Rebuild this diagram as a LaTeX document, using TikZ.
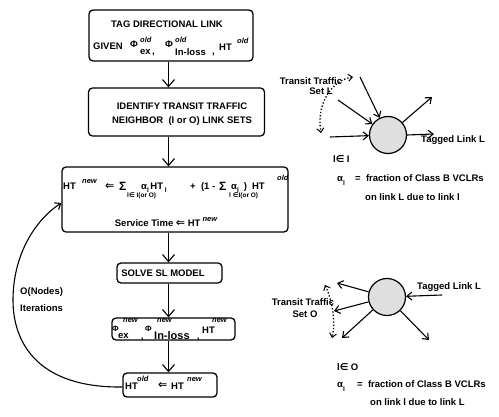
\documentclass[tikz,border=0pt]{standalone}
\usepackage{fontspec}
\setmainfont{Liberation Sans}
\newfontfamily\dej{DejaVu Sans}
\usetikzlibrary{arrows.meta}
\newcommand\supf{\fontsize{7.5}{8}\selectfont\itshape}
\newcommand\subf{\fontsize{6.5}{7}\selectfont}
\begin{document}
\begin{tikzpicture}[x=1pt,y=-1pt,
  every node/.style={font=\bfseries\fontsize{9.5}{10}\selectfont, inner sep=0pt},
  box/.style={draw, line width=1.3pt, rounded corners=4pt},
  arr/.style={-{Straight Barb[length=7pt,width=12pt,line width=1.1pt]}, line width=1.1pt},
  arrs/.style={-{Straight Barb[length=5pt,width=8pt,line width=1.1pt]}, line width=1.1pt},
  dotarc/.style={line width=1.3pt, dotted, {Straight Barb[length=4pt,width=7pt,line width=1pt]}-{Straight Barb[length=4pt,width=7pt,line width=1pt]}},
  ball/.style={circle, draw, line width=1.2pt, fill=gray!25, minimum size=37pt},
  bw/.style={anchor=base west},
  subtxt/.style={font=\bfseries\fontsize{6.5}{7}\selectfont}
]
\useasboundingbox (0,0) rectangle (499,417);
\coordinate (col) at (168.5,0);

% ---------- box 1
\node[box, minimum width=164pt, minimum height=51pt] (b1) at (171,35.5) {};
\node (b1a) at (167,24) {TAG DIRECTIONAL LINK};
\node[bw] (b1b) at (93,50) {GIVEN};
\node[bw] (b1c) at (130,48) {Φ};
\node[bw] (b1d) at (140,43) {\supf old};
\node[bw] (b1e) at (140,55) {ex};
\node[bw] (b1f) at (152,55) {,};
\node[bw] (b1g) at (165,48) {Φ};
\node[bw] (b1h) at (175,43) {\supf old};
\node[bw] (b1i) at (175,56) {In-loss};
\node[bw] (b1j) at (212,55) {,};
\node[bw] (b1k) at (219,51) {HT};
\node[bw] (b1l) at (237,44) {\supf old};

% ---------- box 2
\node[box, minimum width=176pt, minimum height=48pt] (b2) at (176.5,112) {};
\node (b2a) at (182,106.5) {IDENTIFY TRANSIT TRAFFIC};
\node (b2b) at (182,121.5) {NEIGHBOR\ \ (I or O) LINK SETS};

% ---------- box 3
\node[box, minimum width=226pt, minimum height=65pt] (b3) at (175,199.5) {};
\node[bw] (f1) at (63,190) {HT};
\node[bw] (f1s) at (82,184) {\supf new};
\node[bw] (f2) at (105,190) {\fontsize{11}{11}\selectfont\dej ⇐};
\node[bw] (f3) at (119,191) {\fontsize{12}{12}\selectfont Σ};
\node[bw, subtxt] (f4) at (127,198) {l{\dej∈} I(or O)};
\node[bw] (f5) at (141,190) {α\raisebox{-3pt}{\subf l}\,HT\raisebox{-3pt}{\subf\ l}};
\node[bw] (f6) at (190,190) {+\ \ (1 -};
\node[bw] (f7) at (219,191) {\fontsize{12}{12}\selectfont Σ};
\node[bw, subtxt] (f8) at (229,198) {l {\dej∈}I(or O)};
\node[bw] (f9) at (231,190) {α\raisebox{-3pt}{\subf l}\hspace{5pt})\hspace{5pt}HT};
\node[bw] (f10) at (277,181) {\supf old};
\node[anchor=base] (f11) at (166,227) {Service Time {\fontsize{11}{11}\selectfont\dej ⇐} HT\hspace{2pt}\raisebox{5pt}{\supf new}};

% ---------- box 4
\node[box, minimum width=105pt, minimum height=20pt] (b4) at (169.5,273) {};
\node (b4a) at (163,273) {SOLVE SL MODEL};

% ---------- box 5
\node[box, minimum width=123pt, minimum height=22pt] (b5) at (173.5,329) {};
\node[bw] (p1) at (112,332) {\fontsize{8}{8}\selectfont Φ};
\node[bw] (p2) at (118,339) {ex};
\node[bw] (p3) at (123,323) {\supf new};
\node[bw] (p4) at (141,340) {,};
\node[bw] (p5) at (145,332) {\fontsize{8}{8}\selectfont Φ};
\node[bw] (p6) at (154,339.5) {\fontsize{11}{11}\selectfont In-loss};
\node[bw] (p7) at (157,323) {\supf new};
\node[bw] (p8) at (197,340) {,};
\node[bw] (p9) at (202,334) {HT};
\node[bw] (p10) at (212,323) {\supf new};

% ---------- box 6
\node[box, minimum width=94pt, minimum height=24pt] (b6) at (170,385) {};
\node[bw] (h1) at (125,390) {HT};
\node[bw] (h2) at (137,382) {\supf old};
\node[bw] (h3) at (158,389) {\fontsize{11}{11}\selectfont\dej ⇐};
\node[bw] (h4) at (171,390) {HT};
\node[bw] (h5) at (187,382) {\supf new};

% ---------- flow arrows
\draw[arr] (b1.south -| col) -- (b2.north -| col);
\draw[arr] (b2.south -| col) -- (b3.north -| col);
\draw[arr] (b3.south -| col) -- (b4.north -| col);
\draw[arr] (b4.south -| col) -- (b5.north -| col);
\draw[arr] (b5.south -| col) -- (b6.north -| col);

% ---------- loop
\draw[arrs] ([yshift=-2pt]b6.west) .. controls (40,388) and (13,345) .. (13,300)
   .. controls (13,255) and (35,220) .. ([yshift=-3.5pt]b3.west);
\node[bw] (it1) at (20,295) {O(Nodes)};
\node[bw] (it2) at (20,312) {Iterations};

% ---------- top right diagram
\node[ball] (c1) at (388,135) {};
\coordinate (ta) at (360,77);
\coordinate (tb) at (338,100);
\coordinate (tc) at (330,137);
\coordinate (td) at (432,97);
\coordinate (te) at (434,134);
\draw[arrs] (ta) -- (c1);
\draw[arrs] (tb) -- (c1);
\draw[arrs] (tc) -- (c1);
\draw[arrs] (c1) -- (td);
\draw[arrs] (c1.east) -- (te);
\coordinate (dA) at (353,77);
\coordinate (dB) at (321,133);
\draw[dotarc] (dA) .. controls (333,80) and (316,102) .. (dB);
\node (tl1) at (311,81) {Transit Traffic};
\node (tl2) at (321,91.5) {Set L};
\node[bw] (tl3) at (421,143) {Tagged Link L};
\node[bw] (tl4) at (333,163) {l{\dej∈} I};
\node[bw] (tl5) at (337,182) {α\raisebox{-4pt}{\subf l}};
\node[bw] (tl6) at (355,182) {=\ \ fraction of Class B VCLRs};
\node[bw] (tl7) at (365,201) {on link L due to link l};

% ---------- bottom right diagram
\node[ball] (c2) at (387,297) {};
\coordinate (ua) at (442,295);
\coordinate (ub) at (337,283);
\coordinate (uc) at (334,311);
\coordinate (ud) at (342,338);
\coordinate (ue) at (429,340);
\draw[arrs] (ua) -- (c2);
\draw[arrs] (c2) -- (ub);
\draw[arrs] (c2) -- (uc);
\draw[arrs] (c2) -- (ud);
\draw[arrs] (c2) -- (ue);
\coordinate (dC) at (325,285);
\coordinate (dD) at (332,338);
\draw[dotarc] (dC) .. controls (332,300) and (336,320) .. (dD);
\node (bl1) at (303,302.5) {Transit Traffic};
\node (bl2) at (305,314) {Set O};
\node[bw] (bl3) at (417,290) {Tagged Link L};
\node[bw] (bl4) at (337,371) {l{\dej∈} O};
\node[bw] (bl5) at (337,388) {α\raisebox{-4pt}{\subf l}};
\node[bw] (bl6) at (357,388) {=\ \ fraction of Class B VCLRs};
\node[bw] (bl7) at (370,406) {on link l due to link L};
\end{tikzpicture}
\end{document}
